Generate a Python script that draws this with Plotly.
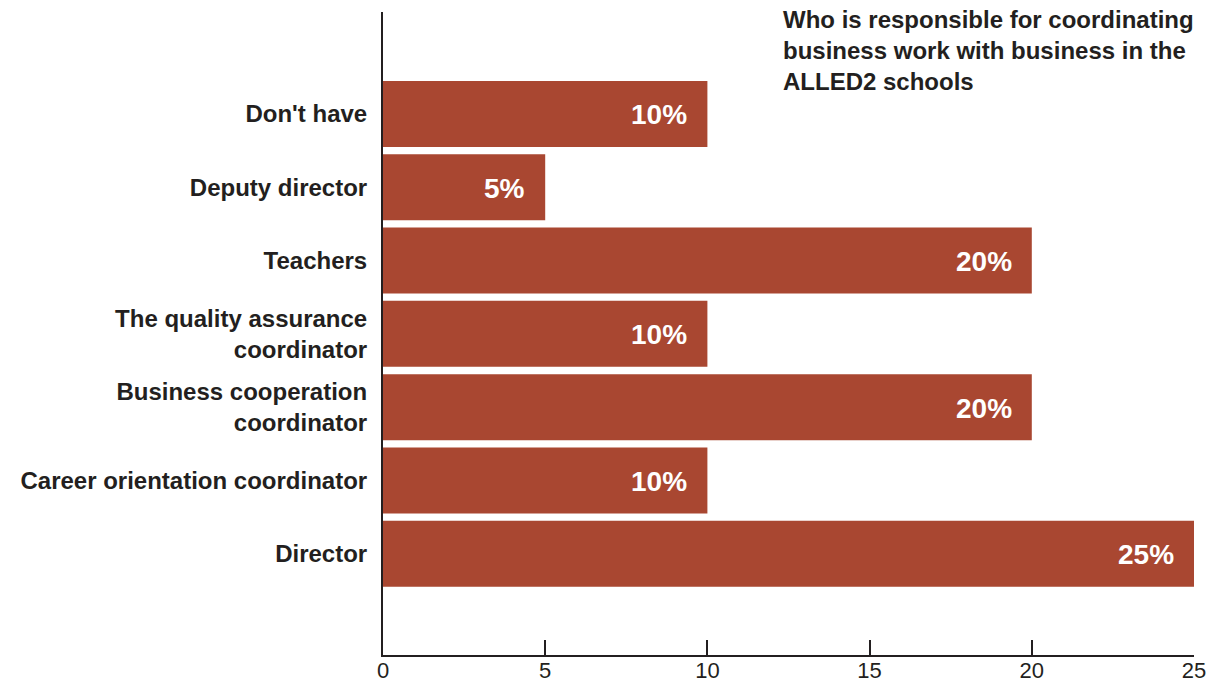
import plotly.graph_objects as go

categories = ["Director", "Career orientation coordinator", "Business cooperation<br>coordinator",
              "The quality assurance<br>coordinator", "Teachers", "Deputy director", "Don't have"]
values = [25, 10, 20, 10, 20, 5, 10]
labels = ["25%", "10%", "20%", "10%", "20%", "5%", "10%"]
x_ticks = [0, 5, 10, 15, 20, 25]

FONT = "Liberation Sans"
BAR = "#A94731"

fig = go.Figure(go.Bar(
    y=list(range(len(categories))), x=values, orientation="h",
    marker=dict(color=BAR, line=dict(width=0)),
    hoverinfo="skip",
))

for i, (v, t) in enumerate(zip(values, labels)):
    fig.add_annotation(x=v, y=i, text=f"<b>{t}</b>", showarrow=False, xanchor="right",
                       xshift=-18, yshift=-1, font=dict(family=FONT, size=28, color="white"))

fig.add_annotation(xref="paper", yref="paper", x=0.491, y=1.012, xanchor="left", yanchor="top",
                   align="left", showarrow=False,
                   text="<b>Who is responsible for coordinating<br>business work with business in the<br>ALLED2 schools</b>",
                   font=dict(family=FONT, size=24, color="#231f20"))

fig.update_layout(
    width=1215, height=683,
    margin=dict(l=383, r=21, t=12, b=28),
    paper_bgcolor="white", plot_bgcolor="white",
    bargap=0.1, showlegend=False,
    xaxis=dict(range=[0, 25], tickvals=x_ticks, ticktext=[str(t) for t in x_ticks],
               ticks="inside", ticklen=15, tickwidth=2, tickcolor="#231f20", automargin=False,
               ticklabelstandoff=-5,
               showline=True, linecolor="#231f20", linewidth=2, showgrid=False, zeroline=False,
               tickfont=dict(family=FONT, size=22, color="#231f20")),
    yaxis=dict(range=[-1.38, 7.39], tickvals=list(range(len(categories))), ticktext=[f"<b>{c}</b>" for c in categories],
               ticks="", showline=True, linecolor="#231f20", linewidth=2, showgrid=False, zeroline=False,
               ticklabelstandoff=9, automargin=False,
               tickfont=dict(family=FONT, size=24, color="#231f20")),
)

fig.write_html("out.html")
